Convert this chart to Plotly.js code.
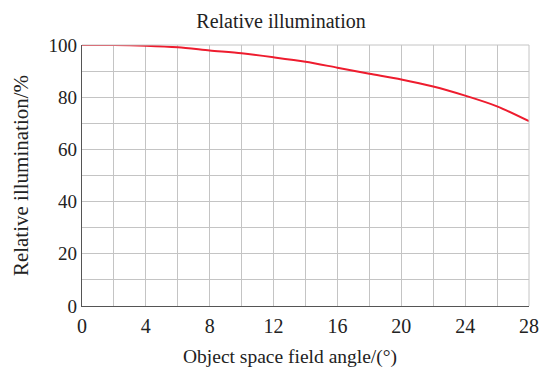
<!DOCTYPE html>
<html>
<head>
<meta charset="utf-8">
<script src="https://cdn.plot.ly/plotly-3.0.1.min.js"></script>
<style>html,body{margin:0;padding:0;background:#fff;}#chart{width:551px;height:372px;}</style>
</head>
<body>
<div id="chart"></div>
<script>
const fieldAngle = [0, 2, 4, 6, 8, 10, 12, 14, 16, 18, 20, 22, 24, 26, 28];
const relIllum = [100, 100, 99.7, 99.1, 97.9, 96.8, 95.3, 93.6, 91.3, 89.0, 86.8, 84.1, 80.6, 76.5, 70.8];
const xTicks = [0, 4, 8, 12, 16, 20, 24, 28];
const yTicks = [0, 20, 40, 60, 80, 100];
const yMinor = [10, 30, 50, 70, 90];

const font = 'Liberation Serif, Times New Roman, serif';
const gridCol = '#c4c4c4';
const txtCol = '#222';

Plotly.newPlot('chart', [{
  x: fieldAngle,
  y: relIllum,
  type: 'scatter',
  mode: 'lines',
  line: {color: '#ee1c2e', width: 2, shape: 'spline', smoothing: 0.8},
  hoverinfo: 'skip'
}], {
  width: 551, height: 372,
  margin: {l: 82, r: 22, t: 45, b: 66},
  paper_bgcolor: '#fff', plot_bgcolor: '#fff',
  showlegend: false,
  font: {family: font, color: txtCol},
  title: {text: 'Relative illumination', font: {family: font, size: 20, color: txtCol}, xref: 'container', x: 0.51, xanchor: 'center', yref: 'container', y: 0.944, yanchor: 'middle'},
  xaxis: {
    range: [0, 28], tickvals: xTicks, ticktext: xTicks.map(String),
    showgrid: true, gridcolor: gridCol, gridwidth: 1,
    minor: {tickvals: fieldAngle, showgrid: true, gridcolor: gridCol, gridwidth: 1},
    showline: true, linecolor: '#555', linewidth: 1.2, zeroline: false,
    ticks: '', ticklabelstandoff: 2, tickfont: {family: font, size: 20, color: txtCol},
    fixedrange: true
  },
  yaxis: {
    range: [0, 100], tickvals: yTicks, ticktext: yTicks.map(String),
    showgrid: true, gridcolor: gridCol, gridwidth: 1,
    minor: {tickvals: yMinor, showgrid: true, gridcolor: gridCol, gridwidth: 1},
    showline: true, linecolor: '#555', linewidth: 1.2, zeroline: false,
    ticks: '', tickfont: {family: font, size: 19, color: txtCol},
    title: {text: 'Relative illumination/%', font: {family: font, size: 21, color: txtCol}, standoff: 14},
    fixedrange: true
  },
  annotations: [
    {text: 'Object space field angle/(°)', xref: 'paper', yref: 'paper', x: 0.4664, y: -0.195,
     xanchor: 'center', yanchor: 'middle', showarrow: false, font: {family: font, size: 19.5, color: txtCol}}
  ],
  shapes: [
    {type: 'line', xref: 'paper', yref: 'paper', x0: 1, x1: 1, y0: 0, y1: 1, line: {color: gridCol, width: 1}},
    {type: 'line', xref: 'paper', yref: 'paper', x0: 0, x1: 1, y0: 1, y1: 1, line: {color: gridCol, width: 1}}
  ]
}, {displayModeBar: false, staticPlot: true});
</script>
</body>
</html>
